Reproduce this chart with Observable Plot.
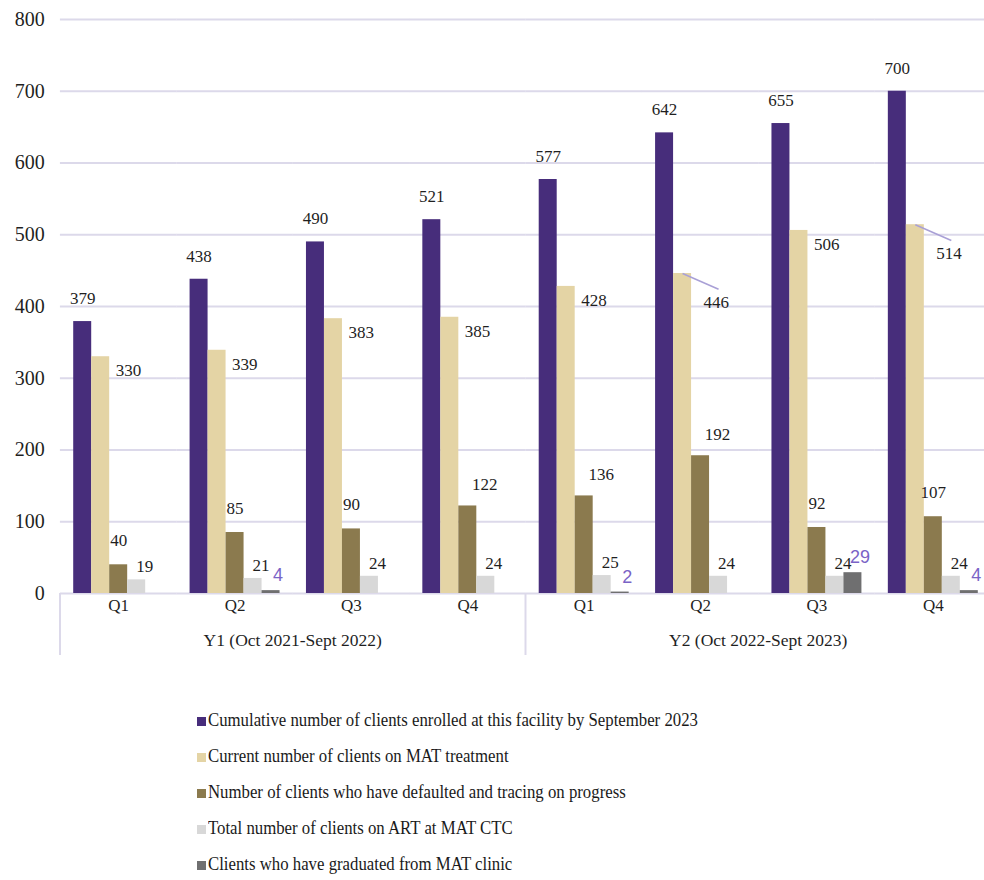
<!DOCTYPE html>
<html><head><meta charset="utf-8">
<script src="https://cdn.jsdelivr.net/npm/d3@7"></script>
<script src="https://cdn.jsdelivr.net/npm/@observablehq/plot@0.6"></script>
<style>
html,body{margin:0;padding:0;background:#fff;overflow:hidden;width:984px;height:880px}
#wrap{position:relative;width:984px;height:880px;overflow:hidden}
#chart svg{max-width:none !important}
#chart svg g[aria-label="fx-axis tick label"]{font-size:17px}
#legend{position:absolute;left:197px;top:709px;font-family:"Liberation Serif","Times New Roman",serif;font-size:19.5px;color:#1a1a1a}
.row{height:36px;display:flex;align-items:baseline;white-space:nowrap}
.sw{display:inline-block;width:9px;height:9px;margin-right:2px;flex:none}
.lt{display:inline-block;transform:scaleX(0.86);transform-origin:0 50%}
</style></head><body><div id="wrap"><div id="chart"></div><div id="legend"></div></div>
<script>
// ---- data ----
const groups = ["Y1-Q1","Y1-Q2","Y1-Q3","Y1-Q4","Y2-Q1","Y2-Q2","Y2-Q3","Y2-Q4"];
const quarterLabels = ["Q1","Q2","Q3","Q4","Q1","Q2","Q3","Q4"];
const yearLabels = ["Y1 (Oct 2021-Sept 2022)","Y2 (Oct 2022-Sept 2023)"];
const seriesNames = [
  "Cumulative number of clients enrolled at this facility by September 2023",
  "Current number of clients on MAT treatment",
  "Number of clients who have defaulted and tracing on progress",
  "Total number of clients on ART at MAT CTC",
  "Clients who have graduated from MAT clinic"
];
const seriesColors = ["#472d7b","#e4d4a5","#8b7a4e","#d8d8d8","#6f6f70"];
const cumulative = [379,438,490,521,577,642,655,700];
const onMAT      = [330,339,383,385,428,446,506,514];
const defaulted  = [40,85,90,122,136,192,92,107];
const onART      = [19,21,24,24,25,24,24,24];
const graduated  = [null,4,null,null,2,null,29,4];
const yTicks = [0,100,200,300,400,500,600,700,800];
const leaderIdx = [5,7];
const shiftedDefaultIdx = [3,4,5];

// ---- table ----
const seriesValues = [cumulative,onMAT,defaulted,onART,graduated];
const rows = [];
groups.forEach((g,i)=>seriesValues.forEach((vals,s)=>{
  if(vals[i]!=null) rows.push({group:g, gi:i, series:seriesNames[s], si:s, value:vals[i]});
}));
const bySeries = s => rows.filter(d=>d.si===s);

const serif = '"Liberation Serif","Times New Roman",serif';
const ink = "#1f1f1f";
const gridColor = "#dcd9ea";
const half = 13.3;

const plot = Plot.plot({
  width: 991, height: 665,
  marginLeft: 60, marginRight: 0, marginTop: 19, marginBottom: 72,
  style: {fontFamily: serif, color: ink, background: "transparent", overflow: "visible"},
  fx: {domain: groups, paddingInner: 0.227, paddingOuter: 0.1135, round: false, label: null,
       axis: "bottom", tickSize: 0, tickPadding: 5, tickFormat: d => quarterLabels[groups.indexOf(d)]},
  x: {domain: seriesNames, padding: 0, round: false, axis: null},
  y: {domain: [0,800], axis: null},
  color: {domain: seriesNames, range: seriesColors},
  marks: [
    Plot.ruleY(yTicks, {stroke: gridColor, strokeWidth: 2, insetLeft: -half, insetRight: -half}),
    Plot.barY(rows, {fx: "group", x: "series", y: "value", fill: "series"}),
    Plot.axisY(yTicks, {tickSize: 0, tickPadding: 29, fontSize: 20, fill: ink, label: null}),
    Plot.text(bySeries(0), {fx:"group", x:"series", y:"value", text:d=>String(d.value), dy:-23, fontSize:17, fill:ink}),
    Plot.text(bySeries(1).filter(d=>!leaderIdx.includes(d.gi)), {fx:"group", x:"series", y:"value", text:d=>String(d.value), textAnchor:"start", dx:15, dy:14, fontSize:17, fill:ink}),
    Plot.text(bySeries(1).filter(d=>leaderIdx.includes(d.gi)), {fx:"group", x:"series", y:"value", text:d=>String(d.value), textAnchor:"start", dx:21, dy:29, fontSize:17, fill:ink}),
    Plot.link(bySeries(1).filter(d=>leaderIdx.includes(d.gi)), {fx:"group", x1:"series", x2:()=>seriesNames[3], y1:"value", y2:d=>d.value-22, stroke:"#a9a0d6", strokeWidth:1.5}),
    Plot.text(bySeries(2).filter(d=>!shiftedDefaultIdx.includes(d.gi)), {fx:"group", x:"series", y:"value", text:d=>String(d.value), dy:-24, fontSize:17, fill:ink}),
    Plot.text(bySeries(2).filter(d=>shiftedDefaultIdx.includes(d.gi)), {fx:"group", x:"series", y:"value", text:d=>String(d.value), dx:17, dy:-21, fontSize:17, fill:ink}),
    Plot.text(bySeries(3), {fx:"group", x:"series", y:"value", text:d=>String(d.value), dx:8, dy:-13, fontSize:17, fill:ink}),
    Plot.text(bySeries(4), {fx:"group", x:"series", y:"value", text:d=>String(d.value), dx:7, dy:-15, fontSize:18, fontFamily:'"Liberation Sans",Arial,sans-serif', fill:"#7a63c6"})
  ]
});
document.getElementById("chart").appendChild(plot);

// group separators and year labels, positioned through the fx and y scales
const fxs = plot.scale("fx"), ys = plot.scale("y");
const bw = fxs.bandwidth, step = fxs.step;
const fxPos = g => fxs.apply(g);
const y0 = ys.apply(0);
const left = fxPos(groups[0]) - (step - bw) / 2;
const mid = (fxPos(groups[3]) + bw + fxPos(groups[4])) / 2;
const right = fxPos(groups[7]) + bw + (step - bw) / 2;
const svg = d3.select(plot);
const g = svg.append("g");
[left, mid, right].forEach(x => g.append("line").attr("x1",x).attr("x2",x).attr("y1",y0).attr("y2",y0+62).attr("stroke",gridColor).attr("stroke-width",2));
[[left,mid],[mid,right]].forEach(([a,b],i)=>g.append("text").attr("x",(a+b)/2).attr("y",y0+53).attr("text-anchor","middle").attr("font-size",17.5).attr("fill",ink).attr("font-family",serif).text(yearLabels[i]));

// legend
const lg = d3.select("#legend");
seriesNames.forEach((n,i)=>{
  const r = lg.append("div").attr("class","row");
  r.append("span").attr("class","sw").style("background",seriesColors[i]);
  r.append("span").attr("class","lt").text(n);
});
</script></body></html>
